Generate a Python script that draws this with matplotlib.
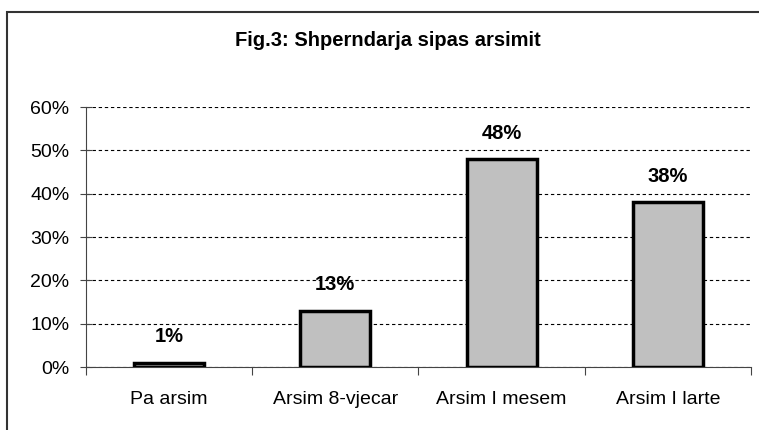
import numpy as np
from matplotlib import pyplot as plt
from matplotlib.patches import Rectangle
from matplotlib.ticker import PercentFormatter

categories = ['Pa arsim', 'Arsim 8-vjecar', 'Arsim I mesem', 'Arsim I larte']
values = [1, 13, 48, 38]
labels = ['1%', '13%', '48%', '38%']

plt.rcParams['font.family'] = ['Liberation Sans', 'DejaVu Sans']

fig = plt.figure(figsize=(7.59, 4.30), dpi=100)
ax = fig.add_axes([86 / 759, 1 - 367 / 430, (751 - 86) / 759, (367 - 107) / 430])

# outer frame, cut off at right and bottom like the source
fig.patches.append(Rectangle((7 / 759, -0.2), 1.2, 1 - 12 / 430 + 0.2,
                             transform=fig.transFigure, fill=False,
                             edgecolor='#333333', linewidth=1.5))

x = np.arange(len(categories))
ax.bar(x, values, width=0.42, color='#c0c0c0', edgecolor='black', linewidth=2.5, zorder=3)
for xi, v, lab in zip(x, values, labels):
    ax.text(xi, v + 3.8, lab, ha='center', va='bottom', fontsize=14.5, fontweight='bold')

ax.set_xlim(-0.5, len(categories) - 0.5)
ax.set_ylim(0, 60)
ax.set_yticks(np.arange(0, 61, 10))
ax.yaxis.set_major_formatter(PercentFormatter(decimals=0))
ax.set_xticks(np.arange(-0.5, len(categories)), minor=False)
ax.set_xticklabels([])
ax.set_xticks(x, minor=True)
ax.set_xticklabels(categories, minor=True)
ax.tick_params(axis='x', which='major', direction='out', length=6, width=0.8, color='#444444')
ax.tick_params(axis='x', which='minor', length=0, pad=17, labelsize=14)
ax.tick_params(axis='y', direction='inout', length=8, width=0.8, color='#444444', labelsize=14, pad=8)

ax.grid(axis='y', linestyle=(0, (3, 2.5)), color='black', linewidth=0.8, zorder=0)
for s in ['top', 'right']:
    ax.spines[s].set_visible(False)
ax.spines['left'].set_color('#444444')
ax.spines['bottom'].set_color('#444444')

fig.text(388 / 759, 1 - 41 / 430, 'Fig.3: Shperndarja sipas arsimit', ha='center', va='center',
         fontsize=14.5, fontweight='bold')

plt.savefig('out.png', dpi=100)
